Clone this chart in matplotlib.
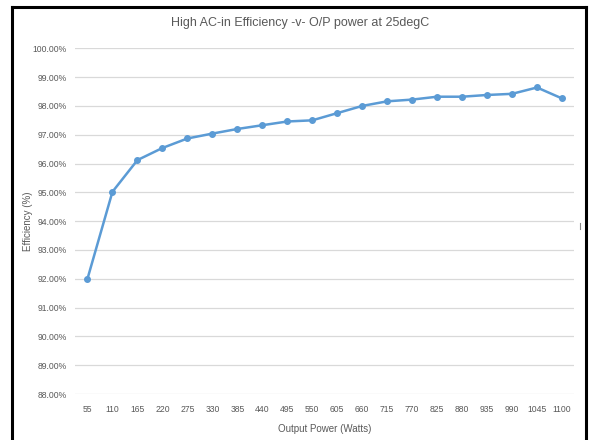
import matplotlib.pyplot as plt
from matplotlib.lines import Line2D
from matplotlib.ticker import FuncFormatter

plt.rcParams['font.family'] = ['Liberation Sans', 'DejaVu Sans']

power = [55, 110, 165, 220, 275, 330, 385, 440, 495, 550,
         605, 660, 715, 770, 825, 880, 935, 990, 1045, 1100]
efficiency = [92.00, 95.02, 96.12, 96.54, 96.87, 97.04, 97.20, 97.33, 97.46, 97.50,
              97.75, 98.00, 98.16, 98.22, 98.32, 98.32, 98.38, 98.42, 98.64, 98.26]
y_ticks = [88, 89, 90, 91, 92, 93, 94, 95, 96, 97, 98, 99, 100]

text_col = '#595959'
grid_col = '#d9d9d9'
line_col = '#5b9bd5'

fig = plt.figure(figsize=(5.9, 4.4), dpi=100)
ax = fig.add_axes([0.1271, 0.1045, 0.8466, 0.7857])

x = list(range(len(power)))
ax.plot(x, efficiency, color=line_col, lw=1.8, marker='o', markersize=4,
        solid_capstyle='round', zorder=3)

ax.set_xlim(-0.5, len(power) - 0.5)
ax.set_ylim(88, 100)
ax.set_yticks(y_ticks)
ax.yaxis.set_major_formatter(FuncFormatter(lambda v, p: f'{v:.2f}%'))
ax.set_xticks(x)
ax.set_xticklabels([str(p) for p in power])
ax.tick_params(axis='both', length=0, labelsize=6.2, labelcolor=text_col)
ax.tick_params(axis='y', pad=6)
ax.tick_params(axis='x', pad=8)
ax.grid(axis='y', color=grid_col, lw=0.9)
ax.set_axisbelow(True)
for s in ax.spines.values():
    s.set_visible(False)

ax.set_xlabel('Output Power (Watts)', fontsize=7, color=text_col, labelpad=7)
ax.set_ylabel('Efficiency (%)', fontsize=7, color=text_col, va='center')
ax.yaxis.set_label_coords(-0.095, 0.5)
fig.text(0.508, 0.948, 'High AC-in Efficiency -v- O/P power at 25degC',
         ha='center', va='center', fontsize=9.0, color=text_col)

# outer frame, open at the bottom edge
fx0, fx1, fy1 = 12 / 590, 586 / 590, 1 - 7 / 440
for xs, ys in [([fx0, fx0], [-0.1, fy1]), ([fx0, fx1], [fy1, fy1]), ([fx1, fx1], [fy1, -0.1])]:
    fig.add_artist(Line2D(xs, ys, color='black', lw=2.2, transform=fig.transFigure))
fig.add_artist(Line2D([580 / 590, 580 / 590], [1 - 223 / 440, 1 - 229 / 440],
                      color='#888888', lw=0.8, transform=fig.transFigure))

fig.savefig('out.png', dpi=100)
